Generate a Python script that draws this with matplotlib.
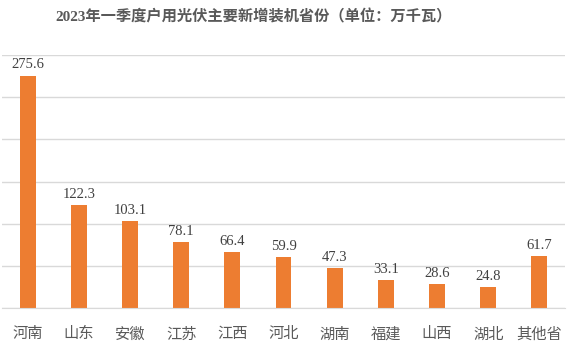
import matplotlib
matplotlib.use("Agg")
import matplotlib.pyplot as plt
import numpy as np

# data
provinces = ["河南", "山东", "安徽", "江苏", "江西", "河北", "湖南", "福建", "山西", "湖北", "其他省"]
capacity = [275.6, 122.3, 103.1, 78.1, 66.4, 59.9, 47.3, 33.1, 28.6, 24.8, 61.7]
title = "2023年一季度户用光伏主要新增装机省份（单位：万千瓦）"

plt.rcParams['font.family'] = ['Noto Sans CJK SC', 'DejaVu Sans']

fig = plt.figure(figsize=(5.78, 3.51), dpi=100)
ax = fig.add_axes([2/578, 43/351, 563/578, 253/351])

x = np.arange(len(provinces))
bars = ax.bar(x, capacity, width=0.31, color="#ED7D31", zorder=3)

ax.set_xlim(-0.5, len(provinces) - 0.5)
ax.set_ylim(0, 300)
ax.set_yticks(np.arange(0, 301, 50))
ax.yaxis.grid(True, color="#D9D9D9", linewidth=1)
ax.tick_params(axis='y', left=False, labelleft=False)
ax.tick_params(axis='x', bottom=False, pad=9)
for s in ["top", "right", "left"]:
    ax.spines[s].set_visible(False)
ax.spines["bottom"].set_color("#D9D9D9")
ax.spines["bottom"].set_zorder(4)

ax.set_xticks(x)
ax.set_xticklabels(provinces, fontsize=11, color="#595959")

for xi, v in zip(x, capacity):
    ax.annotate(f"{v}", (xi, v), xytext=(0, 3), textcoords="offset points",
                ha="center", va="bottom", fontsize=10.5, color="#404040",
                family=["Liberation Serif", "DejaVu Serif"])

fig.text(254/578, 1 - 17/351, title, ha="center", va="center",
         fontsize=11, fontweight="bold", color="#595959",
         family=["Liberation Serif", "Noto Sans CJK SC"])

fig.savefig("out.png", dpi=100)
